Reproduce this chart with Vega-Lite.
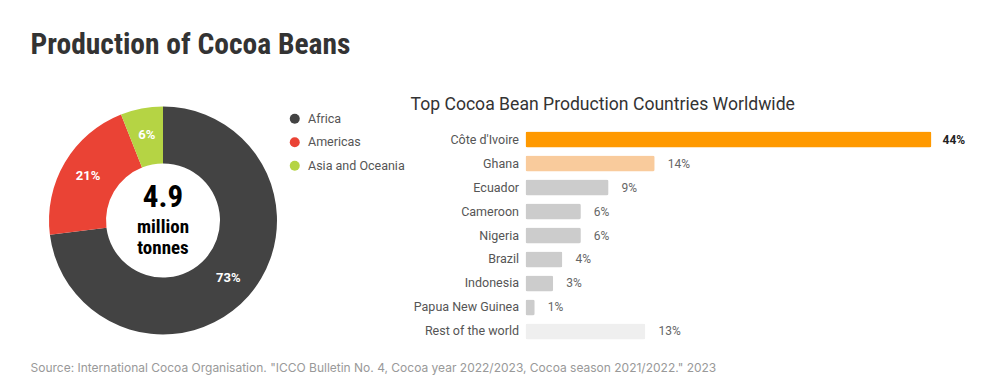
{
  "$schema": "https://vega.github.io/schema/vega-lite/v6.json",
  "background": "white",
  "padding": {"left": 30, "top": 29.5, "right": 0, "bottom": 10},
  "bounds": "flush",
  "resolve": {"scale": {"color": "independent", "x": "independent", "y": "independent", "theta": "independent"}, "legend": {"color": "independent"}},
  "title": {
    "text": "Production of Cocoa Beans",
    "anchor": "start",
    "frame": "bounds",
    "font": "Roboto Condensed, Liberation Sans Narrow, DejaVu Sans Condensed, Roboto, sans-serif",
    "fontSize": 29.5,
    "fontWeight": "bold",
    "color": "#333333",
    "baseline": "alphabetic",
    "offset": 13
  },
  "spacing": 248.5,
  "config": {
    "view": {"stroke": null},
    "axis": {"grid": false}
  },
  "hconcat": [
    {
      "width": 228,
      "height": 186,
      "title": {
        "text": "Source: International Cocoa Organisation. \"ICCO Bulletin No. 4, Cocoa year 2022/2023, Cocoa season 2021/2022.\" 2023",
        "orient": "bottom",
        "anchor": "start",
        "frame": "group",
        "dx": -18.5,
        "font": "Inter, Roboto",
        "fontSize": 12,
        "fontWeight": "normal",
        "color": "#999999",
        "baseline": "alphabetic",
        "offset": 37
      },
      "data": {
        "values": [
          {"region": "Africa", "share": 0.73, "rank": 1},
          {"region": "Americas", "share": 0.21, "rank": 2},
          {"region": "Asia and Oceania", "share": 0.06, "rank": 3}
        ]
      },
      "layer": [
        {
          "mark": {"type": "arc", "innerRadius": 57, "outerRadius": 114},
          "encoding": {
            "theta": {"field": "share", "type": "quantitative", "stack": true},
            "order": {"field": "rank", "type": "quantitative"},
            "color": {
              "field": "region",
              "type": "nominal",
              "scale": {
                "domain": ["Africa", "Americas", "Asia and Oceania"],
                "range": ["#434343", "#EA4335", "#B5D444"]
              },
              "legend": {
                "orient": "none",
                "legendX": 239.5,
                "legendY": -15,
                "title": null,
                "symbolType": "circle",
                "symbolSize": 100,
                "symbolStrokeWidth": 0,
                "labelFont": "Roboto",
                "labelFontSize": 12.5,
                "labelColor": "#555555",
                "labelOffset": 7,
                "rowPadding": 10.5,
                "padding": 0
              }
            }
          }
        },
        {
          "mark": {"type": "text", "radius": 87, "font": "Roboto", "fontSize": 13, "fontWeight": "bold", "color": "white"},
          "encoding": {
            "theta": {"field": "share", "type": "quantitative", "stack": true},
            "order": {"field": "rank", "type": "quantitative"},
            "detail": {"field": "region", "type": "nominal"},
            "text": {"field": "share", "type": "quantitative", "format": ".0%"}
          }
        },
        {
          "data": {"values": [{"big": "4.9"}]},
          "mark": {"type": "text", "font": "Roboto Condensed, Liberation Sans Narrow, DejaVu Sans Condensed, Roboto, sans-serif", "fontSize": 31, "fontWeight": "bold", "color": "#000000", "baseline": "alphabetic", "align": "center", "dy": -13.5},
          "encoding": {"text": {"field": "big", "type": "nominal"}}
        },
        {
          "data": {"values": [{"unit": "million tonnes"}]},
          "mark": {"type": "text", "font": "Roboto Condensed, Liberation Sans Narrow, DejaVu Sans Condensed, Roboto, sans-serif", "fontSize": 19, "fontWeight": "bold", "color": "#000000", "baseline": "alphabetic", "align": "center", "dy": 12.5, "lineBreak": " ", "lineHeight": 21},
          "encoding": {"text": {"field": "unit", "type": "nominal"}}
        }
      ]
    },
    {
      "width": 406,
      "height": 216,
      "title": {
        "text": "Top Cocoa Bean Production Countries Worldwide",
        "anchor": "start",
        "frame": "group",
        "dx": -115,
        "font": "Roboto",
        "fontSize": 17.6,
        "fontWeight": "normal",
        "color": "#333333",
        "baseline": "alphabetic",
        "offset": -0.5
      },
      "data": {
        "values": [
          {"country": "Côte d'Ivoire", "share": 0.44},
          {"country": "Ghana", "share": 0.14},
          {"country": "Ecuador", "share": 0.09},
          {"country": "Cameroon", "share": 0.06},
          {"country": "Nigeria", "share": 0.06},
          {"country": "Brazil", "share": 0.04},
          {"country": "Indonesia", "share": 0.03},
          {"country": "Papua New Guinea", "share": 0.01},
          {"country": "Rest of the world", "share": 0.13}
        ]
      },
      "encoding": {
        "y": {
          "field": "country",
          "type": "nominal",
          "sort": null,
          "scale": {"paddingInner": 0.333, "paddingOuter": 0.1667},
          "axis": {
            "title": null,
            "domain": false,
            "ticks": false,
            "labelPadding": 7,
            "labelFont": "Roboto",
            "labelFontSize": 12.5,
            "labelColor": "#555555"
          }
        },
        "x": {
          "field": "share",
          "type": "quantitative",
          "scale": {"domain": [0, 0.44], "nice": false},
          "axis": null
        }
      },
      "layer": [
        {
          "mark": {"type": "bar", "cornerRadius": 2},
          "encoding": {
            "color": {
              "field": "country",
              "type": "nominal",
              "scale": {
                "domain": ["Côte d'Ivoire", "Ghana", "Ecuador", "Cameroon", "Nigeria", "Brazil", "Indonesia", "Papua New Guinea", "Rest of the world"],
                "range": ["#FF9900", "#F9CB9C", "#CCCCCC", "#CCCCCC", "#CCCCCC", "#CCCCCC", "#CCCCCC", "#CCCCCC", "#EFEFEF"]
              },
              "legend": null
            }
          }
        },
        {
          "transform": [{"filter": {"field": "share", "gte": 0.4}}],
          "mark": {"type": "text", "align": "left", "dx": 11, "font": "Roboto", "fontSize": 12, "fontWeight": "bold", "color": "#222222"},
          "encoding": {"text": {"field": "share", "type": "quantitative", "format": ".0%"}}
        },
        {
          "transform": [{"filter": {"field": "share", "lt": 0.4}}],
          "mark": {"type": "text", "align": "left", "dx": 13, "font": "Roboto", "fontSize": 12, "fontWeight": "normal", "color": "#666666"},
          "encoding": {"text": {"field": "share", "type": "quantitative", "format": ".0%"}}
        }
      ]
    }
  ]
}
